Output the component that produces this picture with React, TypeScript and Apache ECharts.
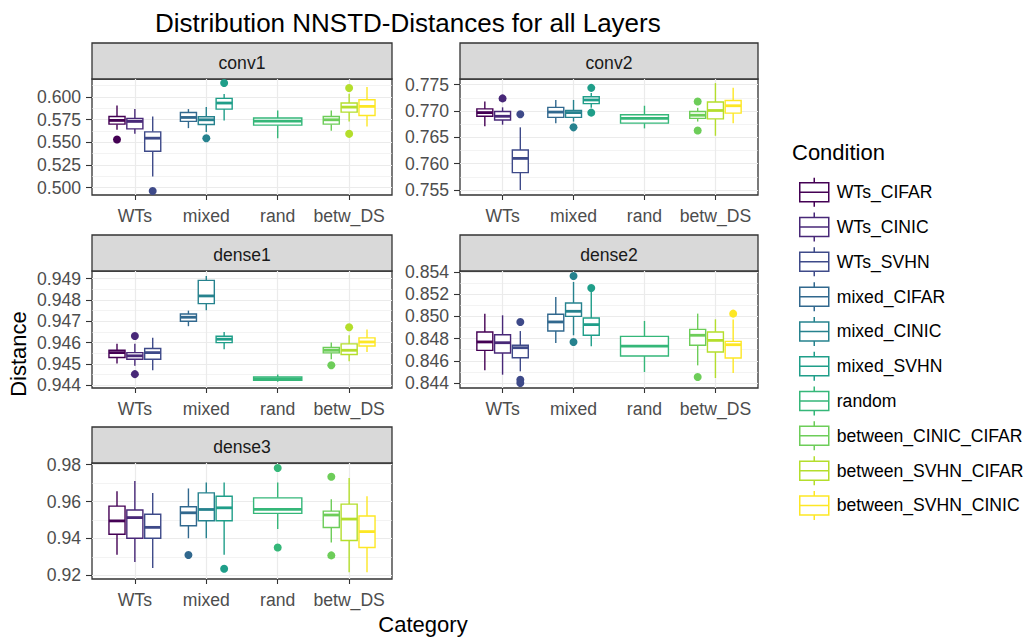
import React, { useEffect, useRef } from 'react';
import * as echarts from 'echarts';

// ---------- data ----------
const conditions = [
  'WTs_CIFAR', 'WTs_CINIC', 'WTs_SVHN',
  'mixed_CIFAR', 'mixed_CINIC', 'mixed_SVHN',
  'random',
  'between_CINIC_CIFAR', 'between_SVHN_CIFAR', 'between_SVHN_CINIC',
];
const categories = ['WTs', 'mixed', 'rand', 'betw_DS'];
const conditionCategory = [0, 0, 0, 1, 1, 1, 2, 3, 3, 3];
const colors = ['#440154', '#482878', '#3E4A89', '#31688E', '#26828E', '#1F9E89', '#35B779', '#6DCD59', '#B4DE2C', '#FDE725'];

// [lower whisker, q1, median, q3, upper whisker] per condition
const conv1Stats = [
  [0.5638, 0.5701, 0.5742, 0.5786, 0.5908],
  [0.5594, 0.5649, 0.5731, 0.5764, 0.5867],
  [0.5122, 0.5402, 0.5546, 0.5616, 0.5786],
  [0.5657, 0.5731, 0.5775, 0.5830, 0.5867],
  [0.5613, 0.5697, 0.5749, 0.5782, 0.5889],
  [0.5742, 0.5867, 0.5934, 0.5985, 0.6035],
  [0.5546, 0.5690, 0.5735, 0.5768, 0.5852],
  [0.5627, 0.5701, 0.5749, 0.5786, 0.5852],
  [0.5731, 0.5834, 0.5889, 0.5934, 0.6037],
  [0.5675, 0.5797, 0.5897, 0.5970, 0.6111],
];
const conv1Outliers = [[0, 0.5531], [2, 0.4963], [4, 0.5546], [5, 0.6155], [8, 0.6100], [8, 0.5594]];

const conv2Stats = [
  [0.7671, 0.7690, 0.7697, 0.7704, 0.7718],
  [0.7674, 0.7683, 0.7690, 0.7699, 0.7707],
  [0.7550, 0.7583, 0.7610, 0.7626, 0.7669],
  [0.7677, 0.7688, 0.7698, 0.7707, 0.7721],
  [0.7680, 0.7688, 0.7697, 0.7701, 0.7721],
  [0.7706, 0.7714, 0.7721, 0.7727, 0.7734],
  [0.7667, 0.7677, 0.7686, 0.7693, 0.7710],
  [0.7680, 0.7686, 0.7692, 0.7699, 0.7706],
  [0.7653, 0.7685, 0.7701, 0.7717, 0.7753],
  [0.7677, 0.7696, 0.7710, 0.7720, 0.7744],
];
const conv2Outliers = [[1, 0.7724], [2, 0.7694], [4, 0.7669], [5, 0.7744], [5, 0.7697], [7, 0.7718], [7, 0.7663]];

const dense1Stats = [
  [0.94502, 0.94530, 0.94553, 0.94564, 0.94595],
  [0.94491, 0.94522, 0.94538, 0.94553, 0.94595],
  [0.94470, 0.94522, 0.94553, 0.94572, 0.94623],
  [0.94677, 0.94700, 0.94719, 0.94734, 0.94750],
  [0.94752, 0.94783, 0.94819, 0.94892, 0.94913],
  [0.94569, 0.94600, 0.94616, 0.94630, 0.94650],
  [0.94416, 0.94423, 0.94431, 0.94439, 0.94450],
  [0.94522, 0.94552, 0.94564, 0.94577, 0.94600],
  [0.94513, 0.94544, 0.94564, 0.94594, 0.94634],
  [0.94556, 0.94584, 0.94603, 0.94622, 0.94662],
];
const dense1Outliers = [[1, 0.94631], [1, 0.94452], [7, 0.94494], [8, 0.94672]];

const dense2Stats = [
  [0.84514, 0.84694, 0.84770, 0.84860, 0.85025],
  [0.84475, 0.84670, 0.84763, 0.84835, 0.85010],
  [0.84505, 0.84628, 0.84718, 0.84740, 0.84868],
  [0.84760, 0.84868, 0.84950, 0.85019, 0.85175],
  [0.84830, 0.85000, 0.85046, 0.85121, 0.85310],
  [0.84730, 0.84830, 0.84926, 0.84986, 0.85220],
  [0.84499, 0.84643, 0.84733, 0.84820, 0.84959],
  [0.84559, 0.84740, 0.84830, 0.84883, 0.85025],
  [0.84445, 0.84679, 0.84784, 0.84860, 0.84974],
  [0.84490, 0.84625, 0.84745, 0.84775, 0.84971],
];
const dense2Outliers = [[2, 0.8495], [2, 0.8443], [2, 0.8440], [4, 0.85364], [4, 0.8477], [5, 0.85256], [7, 0.84454], [9, 0.85025]];

const dense3Stats = [
  [0.9311, 0.9423, 0.9495, 0.9575, 0.9656],
  [0.9272, 0.9401, 0.9513, 0.9554, 0.9712],
  [0.9239, 0.9401, 0.9460, 0.9531, 0.9647],
  [0.9401, 0.9469, 0.9539, 0.9572, 0.9671],
  [0.9401, 0.9496, 0.9557, 0.9647, 0.9703],
  [0.9311, 0.9496, 0.9566, 0.9629, 0.9703],
  [0.9451, 0.9536, 0.9557, 0.9620, 0.9703],
  [0.9378, 0.9459, 0.9527, 0.9548, 0.9613],
  [0.9216, 0.9389, 0.9505, 0.9586, 0.9728],
  [0.9216, 0.9351, 0.9437, 0.9522, 0.9629],
];
const dense3Outliers = [[3, 0.9310], [5, 0.9236], [6, 0.9782], [6, 0.9351], [7, 0.9734], [7, 0.9308]];

// axis ranges and tick labels
const conv1Range = [0.49188, 0.61993];
const conv1Ticks = [0.5, 0.525, 0.55, 0.575, 0.6];
const conv1Minor = [0.5125, 0.5375, 0.5625, 0.5875, 0.6125];
const conv2Range = [0.75405, 0.77608];
const conv2Ticks = [0.755, 0.76, 0.765, 0.77, 0.775];
const conv2Minor = [0.7575, 0.7625, 0.7675, 0.7725];
const dense1Range = [0.94387, 0.94936];
const dense1Ticks = [0.944, 0.945, 0.946, 0.947, 0.948, 0.949];
const dense1Minor = [0.9445, 0.9455, 0.9465, 0.9475, 0.9485];
const dense2Range = [0.84355, 0.85409];
const dense2Ticks = [0.844, 0.846, 0.848, 0.85, 0.852, 0.854];
const dense2Minor = [0.845, 0.847, 0.849, 0.851, 0.853];
const dense3Range = [0.918, 0.9809];
const dense3Ticks = [0.92, 0.94, 0.96, 0.98];
const dense3Minor = [0.93, 0.95, 0.97];

// ---------- layout ----------
const FONT = '"Liberation Sans", Arial, Helvetica, sans-serif';
const STRIP_H = 36;
const panels = [
  { name: 'conv1', stats: conv1Stats, outliers: conv1Outliers, range: conv1Range, ticks: conv1Ticks, minor: conv1Minor, dec: 3, left: 92, top: 79, width: 300, height: 116 },
  { name: 'conv2', stats: conv2Stats, outliers: conv2Outliers, range: conv2Range, ticks: conv2Ticks, minor: conv2Minor, dec: 3, left: 460, top: 79, width: 298, height: 116 },
  { name: 'dense1', stats: dense1Stats, outliers: dense1Outliers, range: dense1Range, ticks: dense1Ticks, minor: dense1Minor, dec: 3, left: 92, top: 271, width: 300, height: 117 },
  { name: 'dense2', stats: dense2Stats, outliers: dense2Outliers, range: dense2Range, ticks: dense2Ticks, minor: dense2Minor, dec: 3, left: 460, top: 271, width: 298, height: 117 },
  { name: 'dense3', stats: dense3Stats, outliers: dense3Outliers, range: dense3Range, ticks: dense3Ticks, minor: dense3Minor, dec: 2, left: 92, top: 463, width: 300, height: 116 },
];

function slotOf(ci: number) {
  const g = conditionCategory[ci];
  const members = conditionCategory.map((gg, i) => (gg === g ? i : -1)).filter((i) => i >= 0);
  const n = members.length;
  const k = members.indexOf(ci);
  const slotW = 0.75 / n;
  return { x: g + 1 + (k - (n - 1) / 2) * slotW, hw: (slotW * 0.9) / 2 };
}

function makeRenderItem(color: string) {
  return (params: any, api: any) => {
    const x = api.value(0);
    const lo = api.value(1), q1 = api.value(2), med = api.value(3), q3 = api.value(4), hi = api.value(5);
    const hw = api.value(6);
    const pLo = api.coord([x, lo]);
    const pQ1 = api.coord([x, q1]);
    const pMed = api.coord([x, med]);
    const pQ3 = api.coord([x, q3]);
    const pHi = api.coord([x, hi]);
    const xl = api.coord([x - hw, q1])[0];
    const xr = api.coord([x + hw, q1])[0];
    const lw = 1.4;
    return {
      type: 'group',
      children: [
        { type: 'line', shape: { x1: pHi[0], y1: pHi[1], x2: pQ3[0], y2: pQ3[1] }, style: { stroke: color, lineWidth: lw } },
        { type: 'line', shape: { x1: pLo[0], y1: pLo[1], x2: pQ1[0], y2: pQ1[1] }, style: { stroke: color, lineWidth: lw } },
        { type: 'rect', shape: { x: xl, y: pQ3[1], width: xr - xl, height: pQ1[1] - pQ3[1] }, style: { fill: '#ffffff', stroke: color, lineWidth: lw } },
        { type: 'line', shape: { x1: xl, y1: pMed[1], x2: xr, y2: pMed[1] }, style: { stroke: color, lineWidth: 2.8 } },
      ],
    };
  };
}

function buildOption() {
  const grid = panels.map((p) => ({
    left: p.left, top: p.top, width: p.width, height: p.height,
    show: true, borderColor: '#333333', borderWidth: 1.3, backgroundColor: '#ffffff',
  }));
  const xAxis = panels.map((p, i) => ({
    gridIndex: i, type: 'value', min: 0.4, max: 4.6,
    axisLine: { show: false },
    axisTick: { show: true, length: 5, lineStyle: { color: '#333333', width: 1.1 }, customValues: [1, 2, 3, 4] },
    axisLabel: {
      customValues: [1, 2, 3, 4], formatter: (v: number) => categories[Math.round(v) - 1],
      color: '#4D4D4D', fontSize: 17.6, margin: 11.5, fontFamily: FONT,
    },
    splitLine: { show: true, lineStyle: { color: '#EBEBEB', width: 1.2 } },
  }));
  const yMajor = panels.map((p, i) => ({
    gridIndex: i, type: 'value', min: p.range[0], max: p.range[1],
    axisLine: { show: false },
    axisTick: { show: true, length: 6, lineStyle: { color: '#333333', width: 1.1 }, customValues: p.ticks },
    axisLabel: {
      customValues: p.ticks, formatter: (v: number) => v.toFixed(p.dec),
      color: '#4D4D4D', fontSize: 17.6, margin: 11, fontFamily: FONT,
    },
    splitLine: { show: true, lineStyle: { color: '#EBEBEB', width: 1.2 } },
  }));
  const yMinor = panels.map((p, i) => ({
    gridIndex: i, type: 'value', min: p.range[0], max: p.range[1],
    axisLine: { show: false },
    axisTick: { show: false, customValues: p.minor },
    axisLabel: { show: false, customValues: p.minor },
    splitLine: { show: true, lineStyle: { color: '#EBEBEB', width: 0.6 } },
  }));

  const series: any[] = [];
  panels.forEach((p, pi) => {
    p.stats.forEach((s, ci) => {
      const { x, hw } = slotOf(ci);
      series.push({
        type: 'custom', name: conditions[ci], xAxisIndex: pi, yAxisIndex: pi,
        data: [[x, s[0], s[1], s[2], s[3], s[4], hw]],
        encode: { x: 0, y: [1, 2, 3, 4, 5] },
        itemStyle: { color: colors[ci] },
        renderItem: makeRenderItem(colors[ci]),
        z: 3,
      });
    });
    series.push({
      type: 'scatter', name: 'outliers_' + p.name, xAxisIndex: pi, yAxisIndex: pi,
      symbolSize: 8, z: 4,
      data: p.outliers.map(([ci, v]) => ({ value: [slotOf(ci).x, v], itemStyle: { color: colors[ci], opacity: 1 } })),
    });
  });

  const graphics: any[] = [
    { type: 'text', style: { text: 'Distribution NNSTD-Distances for all Layers', x: 155, y: 22.7, fontSize: 26, fontFamily: FONT, fill: '#000000', align: 'left', verticalAlign: 'middle' } },
    { type: 'text', style: { text: 'Condition', x: 792, y: 152.4, fontSize: 22, fontFamily: FONT, fill: '#000000', align: 'left', verticalAlign: 'middle' } },
    { type: 'text', style: { text: 'Category', x: 423, y: 624, fontSize: 22, fontFamily: FONT, fill: '#000000', align: 'center', verticalAlign: 'middle' } },
    { type: 'text', x: 18.4, y: 354, rotation: Math.PI / 2, style: { text: 'Distance', x: 0, y: 0, fontSize: 22, fontFamily: FONT, fill: '#000000', align: 'center', verticalAlign: 'middle' } },
  ];
  panels.forEach((p) => {
    graphics.push({ type: 'rect', shape: { x: p.left, y: p.top - STRIP_H, width: p.width, height: STRIP_H }, style: { fill: '#D9D9D9', stroke: '#333333', lineWidth: 1.3 } });
    graphics.push({ type: 'text', style: { text: p.name, x: p.left + p.width / 2, y: p.top - STRIP_H / 2 + 1.5, fontSize: 17.6, fontFamily: FONT, fill: '#1A1A1A', align: 'center', verticalAlign: 'middle' } });
  });

  return {
    animation: false,
    backgroundColor: '#ffffff',
    grid,
    xAxis,
    yAxis: [...yMajor, ...yMinor],
    legend: {
      orient: 'vertical', left: 794, top: 172, itemWidth: 29, itemHeight: 29, itemGap: 4.3,
      selectedMode: false,
      icon: 'path://M14.5 0L14.5 5M0 5L29 5L29 24L0 24ZM0 14.5L29 14.5M14.5 24L14.5 29',
      data: conditions.map((n, i) => ({ name: n, itemStyle: { color: '#ffffff', borderColor: colors[i], borderWidth: 1.5 } })),
      textStyle: { fontSize: 17.6, color: '#000000', fontFamily: FONT, padding: [0, 0, 0, 3] },
    },
    graphic: { elements: graphics },
    series,
  };
}

export default function App() {
  const ref = useRef<HTMLDivElement>(null);
  useEffect(() => {
    document.body.style.margin = '0';
    const chart = echarts.init(ref.current as HTMLDivElement, null, { renderer: 'svg' });
    chart.setOption(buildOption() as any);
    return () => chart.dispose();
  }, []);
  return <div ref={ref} style={{ width: 1034, height: 637 }} />;
}
